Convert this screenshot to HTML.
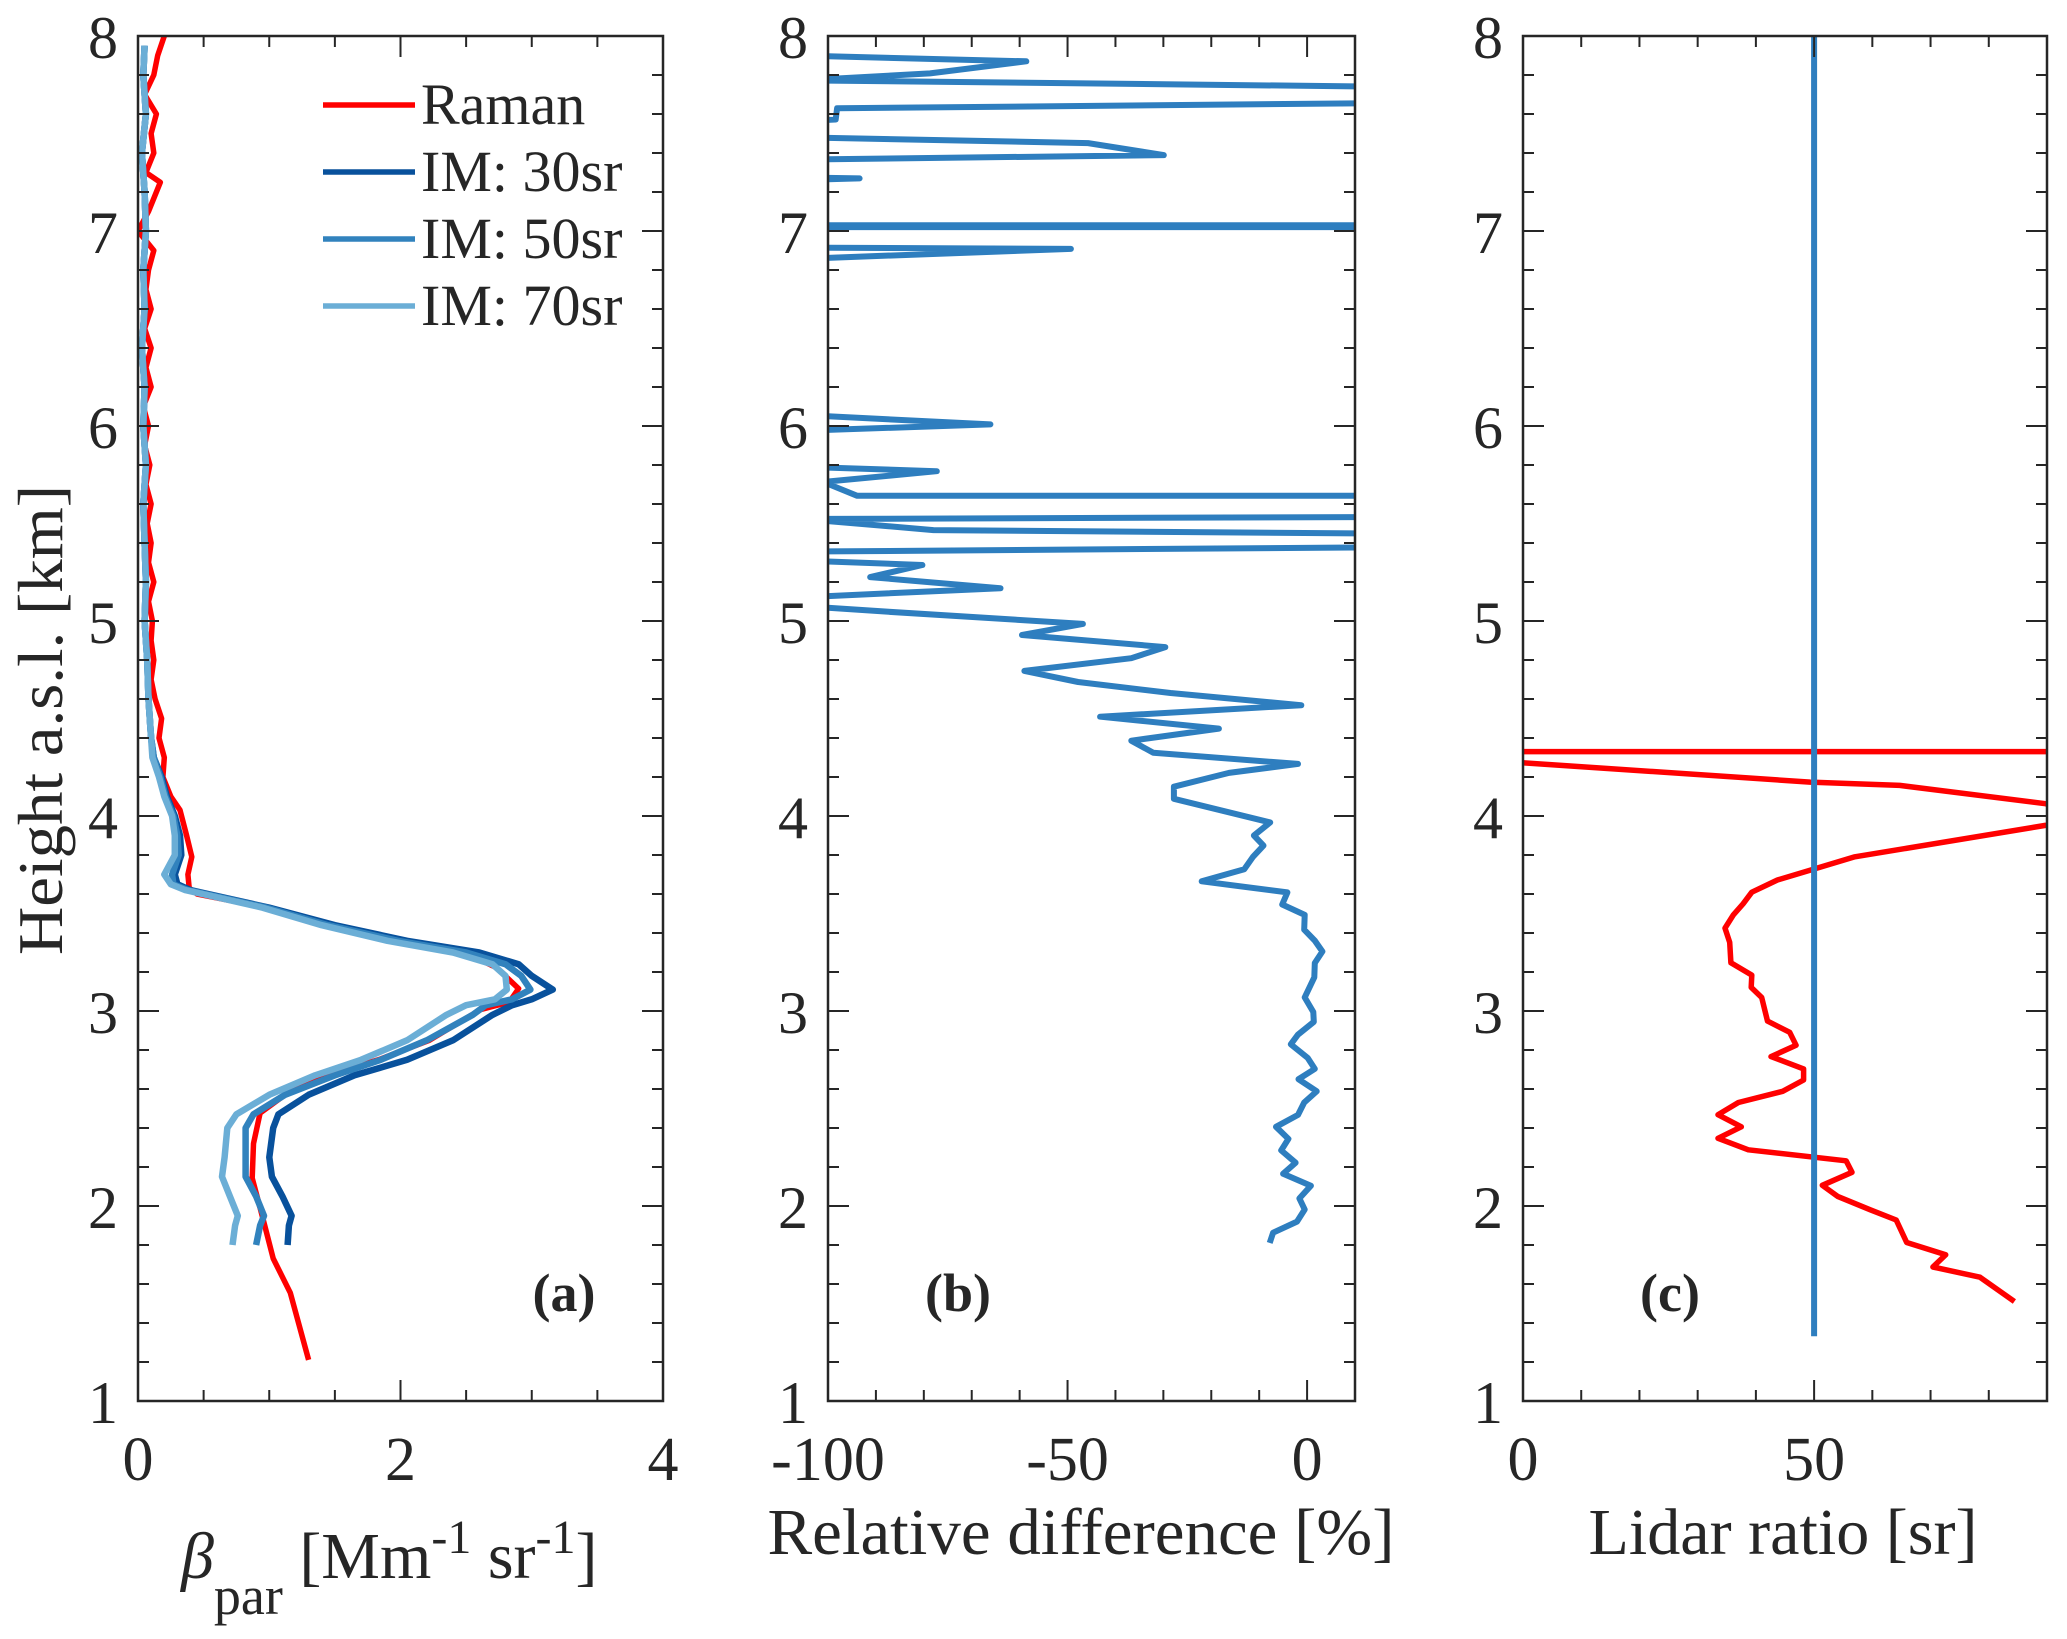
<!DOCTYPE html>
<html><head><meta charset="utf-8">
<style>
html,body{margin:0;padding:0;background:#fff;}
svg{display:block;font-family:"Liberation Serif","Times New Roman",serif;}
text{font-family:"Liberation Serif","Times New Roman",serif;fill:#262626;}
</style></head>
<body>
<svg id="fig" width="2067" height="1639" viewBox="0 0 2067 1639" xmlns="http://www.w3.org/2000/svg" font-family="Liberation Serif, Times New Roman, serif">
<defs>
<clipPath id="clipA"><rect x="138" y="36" width="525" height="1365"/></clipPath>
<clipPath id="clipB"><rect x="828" y="36" width="527" height="1365"/></clipPath>
<clipPath id="clipC"><rect x="1523" y="36" width="524" height="1365"/></clipPath>
</defs>
</svg>
<script>
// ---------- Panel (a) data: backscatter profiles ----------
const ramanH = [8.0,7.9,7.8,7.7,7.6,7.5,7.4,7.3,7.25,7.1,7.0,6.9,6.8,6.7,6.6,6.5,6.4,6.3,6.2,6.1,6.0,5.9,5.8,5.7,5.6,5.5,5.4,5.3,5.2,5.1,5.0,4.9,4.8,4.7,4.6,4.5,4.4,4.3,4.2,4.1,4.03,3.9,3.79,3.7,3.63,3.6,3.527,3.439,3.361,3.302,3.223,3.115,3.046,3.007,2.85,2.752,2.673,2.575,2.477,2.32,2.143,1.928,1.731,1.555,1.211];
const ramanV = [0.2,0.15,0.12,0.05,0.14,0.1,0.12,0.06,0.17,0.08,0.0,0.12,0.08,0.06,0.1,0.05,0.1,0.06,0.1,0.04,0.08,0.05,0.09,0.06,0.1,0.07,0.1,0.08,0.12,0.08,0.11,0.1,0.12,0.1,0.13,0.18,0.16,0.2,0.19,0.25,0.32,0.37,0.41,0.38,0.39,0.45,1.0,1.46,1.97,2.48,2.73,2.9,2.83,2.61,2.22,1.84,1.46,1.13,0.93,0.88,0.87,0.955,1.03,1.16,1.3];
const imH = [7.95,7.8,7.6,7.4,7.2,7.0,6.8,6.6,6.4,6.2,6.0,5.8,5.6,5.4,5.2,5.0,4.8,4.6,4.4,4.3,4.2,4.1,4.0,3.9,3.8,3.7,3.65,3.62,3.53,3.44,3.36,3.3,3.24,3.18,3.11,3.06,3.03,2.98,2.85,2.75,2.67,2.57,2.47,2.4,2.25,2.15,2.05,1.95,1.9,1.8];
const im30V = [0.05,0.04,0.06,0.03,0.05,0.06,0.04,0.05,0.03,0.05,0.04,0.06,0.04,0.05,0.06,0.05,0.07,0.08,0.1,0.12,0.18,0.22,0.28,0.32,0.33,0.28,0.3,0.4,1.0,1.5,2.05,2.6,2.9,3.0,3.16,3.0,2.85,2.7,2.4,2.05,1.65,1.3,1.07,1.03,1.0,1.02,1.1,1.17,1.15,1.14];
const im50V = [0.05,0.04,0.06,0.03,0.05,0.06,0.04,0.05,0.03,0.05,0.04,0.06,0.04,0.05,0.06,0.05,0.07,0.08,0.1,0.12,0.17,0.21,0.27,0.3,0.31,0.26,0.27,0.38,0.98,1.45,1.98,2.5,2.8,2.92,2.99,2.85,2.65,2.55,2.2,1.85,1.5,1.12,0.88,0.82,0.82,0.82,0.9,0.96,0.93,0.9];
const im70V = [0.05,0.04,0.06,0.03,0.05,0.06,0.04,0.05,0.03,0.05,0.04,0.06,0.04,0.05,0.06,0.05,0.07,0.08,0.1,0.11,0.16,0.2,0.26,0.28,0.28,0.2,0.25,0.36,0.95,1.4,1.9,2.4,2.7,2.8,2.81,2.72,2.5,2.35,2.05,1.7,1.35,1.0,0.75,0.68,0.66,0.64,0.7,0.76,0.74,0.72];

// ---------- Panel (b) data: relative difference ----------
const relH = [7.899,7.870,7.808,7.773,7.739,7.657,7.629,7.572,7.565,7.480,7.451,7.389,7.366,7.275,7.270,7.262,7.029,7.029,7.020,7.020,6.915,6.908,6.858,6.056,6.008,5.976,5.791,5.768,5.713,5.642,5.642,5.534,5.523,5.466,5.447,5.379,5.356,5.310,5.287,5.225,5.168,5.122,5.076,5.047,4.985,4.928,4.866,4.809,4.744,4.687,4.631,4.568,4.509,4.448,4.386,4.324,4.267,4.221,4.150,4.088,3.967,3.900,3.848,3.791,3.727,3.665,3.608,3.546,3.493,3.417,3.361,3.305,3.246,3.173,3.070,2.995,2.944,2.879,2.829,2.760,2.703,2.650,2.588,2.531,2.467,2.406,2.344,2.285,2.222,2.165,2.104,2.039,1.982,1.920,1.863,1.811];
const relV = [-105,-58.6,-78.7,-105,20,20,-98.1,-98.4,-105,-105,-45.7,-29.9,-105,-105,-93.4,-105,-105,20,20,-105,-105,-49.3,-105,-105,-66.1,-105,-105,-77.3,-101,-93.9,20,20,-105,-78.0,20,20,-105,-105,-80.3,-91.2,-64.0,-105,-105,-87.3,-46.8,-59.5,-29.6,-36.7,-59.0,-47.8,-28.5,-1.2,-43.2,-18.4,-36.7,-32.1,-1.9,-16.3,-27.8,-27.8,-7.7,-11.1,-9.1,-11.3,-13.1,-22.0,-4.1,-5.2,-0.5,-0.6,1.6,3.2,1.6,1.5,-0.5,1.3,1.4,-1.9,-3.4,0.1,1.6,-1.8,2.0,-0.6,-1.9,-6.5,-3.9,-5.4,-2.4,-5.0,0.8,-1.6,-0.5,-2.1,-7.1,-7.8];

// ---------- Panel (c) data: lidar ratio ----------
const lrH = [4.33,4.33,4.275,4.174,4.157,4.063,4.01,3.952,3.791,3.722,3.672,3.609,3.550,3.492,3.425,3.352,3.247,3.184,3.121,3.069,2.948,2.891,2.824,2.766,2.703,2.646,2.588,2.531,2.468,2.406,2.347,2.288,2.232,2.173,2.106,2.048,1.980,1.928,1.813,1.750,1.687,1.635,1.510];
const lrV = [150,-20,-1,49.3,64.7,89.7,110,89.7,57.0,49.3,43.7,39.3,37.8,36.1,34.7,35.5,35.7,39.3,39.2,41.0,42.0,45.8,46.9,42.6,48.2,48.2,44.6,37.0,33.5,37.5,33.5,38.7,55.5,56.5,51.4,54.1,59.7,64.1,65.9,72.6,70.4,78.5,84.4];
const imLrH = [8.0,1.332];
const imLrV = [50,50];

const yTicks = [1,2,3,4,5,6,7,8];

const svg = document.getElementById('fig');
const NS = 'http://www.w3.org/2000/svg';
const FONT = '"Liberation Serif","Times New Roman",serif';
const T = 36, B = 1401;
function yS(h){ return T + (8-h)*(B-T)/7; }

function mk(tag, attrs, parent){
  const e = document.createElementNS(NS, tag);
  for (const k in attrs) e.setAttribute(k, attrs[k]);
  if (tag === 'text') e.style.fontFamily = FONT;
  (parent||svg).appendChild(e);
  return e;
}

const panels = [
  {key:'a', x0:138, x1:663, vmin:0, vmax:4, major:[0,2,4], minorStep:0.5, clip:'clipA', lab:'(a)', labX:564},
  {key:'b', x0:828, x1:1355, vmin:-100, vmax:10, major:[-100,-50,0], minorStep:10, clip:'clipB', lab:'(b)', labX:958},
  {key:'c', x0:1523, x1:2047, vmin:0, vmax:90, major:[0,50], minorStep:10, clip:'clipC', lab:'(c)', labX:1670}
];
panels.forEach(p=>{ p.xS = v => p.x0 + (v-p.vmin)*(p.x1-p.x0)/(p.vmax-p.vmin); });

function drawLine(p, H, V, color, w, name){
  let d = '';
  for (let i=0;i<H.length;i++) d += (i?'L':'M') + p.xS(V[i]).toFixed(1) + ' ' + yS(H[i]).toFixed(1);
  const el = mk('path', {d:d, fill:'none', stroke:color, 'stroke-width':w, 'stroke-linejoin':'round', 'clip-path':'url(#'+p.clip+')'});
  
  
}

drawLine(panels[0], ramanH, ramanV, '#ff0000', 5.5, 'raman-line');
drawLine(panels[0], imH, im30V, '#08519c', 6.5, 'im-30sr-line');
drawLine(panels[0], imH, im50V, '#3182bd', 6.5, 'im-50sr-line');
drawLine(panels[0], imH, im70V, '#6baed6', 6.5, 'im-70sr-line');
drawLine(panels[1], relH, relV, '#2e7ebf', 6, 'relative-difference-line');
drawLine(panels[2], lrH, lrV, '#ff0000', 5.5, 'raman-lidar-ratio-line');
drawLine(panels[2], imLrH, imLrV, '#2e7ebf', 6, 'assumed-lidar-ratio-line');

panels.forEach(p=>{
  const g = mk('g', {});
  
  
  mk('rect', {x:p.x0, y:T, width:p.x1-p.x0, height:B-T, fill:'none', stroke:'#262626', 'stroke-width':2.5}, g);
  for (let v=p.vmin; v<=p.vmax+1e-9; v+=p.minorStep){
    const vv = Math.round(v*1000)/1000;
    const isMaj = p.major.some(m=>Math.abs(m-vv)<1e-6);
    const L = isMaj?21:11, x = p.xS(vv);
    mk('line', {x1:x, x2:x, y1:B, y2:B-L, stroke:'#262626', 'stroke-width':2}, g);
    mk('line', {x1:x, x2:x, y1:T, y2:T+L, stroke:'#262626', 'stroke-width':2}, g);
  }
  p.major.forEach(m=>{
    const t = mk('text', {x:p.xS(m), y:1480, 'font-size':62, 'text-anchor':'middle'}, g);
    t.textContent = String(m);
    
    
  });
  for (let h=1; h<=8.0001; h+=0.2){
    const hh = Math.round(h*10)/10;
    const isMaj = Math.abs(hh-Math.round(hh))<1e-6;
    const L = isMaj?21:11, y = yS(hh);
    mk('line', {x1:p.x0, x2:p.x0+L, y1:y, y2:y, stroke:'#262626', 'stroke-width':2}, g);
    mk('line', {x1:p.x1, x2:p.x1-L, y1:y, y2:y, stroke:'#262626', 'stroke-width':2}, g);
  }
  yTicks.forEach(h=>{
    const t = mk('text', {x:p.x0-20, y:yS(h)+22, 'font-size':60, 'text-anchor':'end'}, g);
    t.textContent = String(h);
    
    
  });
  const pl = mk('text', {x:p.labX, y:1311, 'font-size':54, 'font-weight':'bold', 'text-anchor':'middle', fill:'#000'}, g);
  pl.textContent = p.lab;
  
  
});

svg.insertAdjacentHTML('beforeend', `
<g font-family="Liberation Serif, serif">
  <g><line x1="323" x2="415" y1="105" y2="105" stroke="#ff0000" stroke-width="5.5"/><text x="421" y="124" font-size="58" style="font-family:'Liberation Serif',serif">Raman</text></g>
  <g><line x1="323" x2="415" y1="172" y2="172" stroke="#08519c" stroke-width="5.5"/><text x="421" y="191" font-size="58" style="font-family:'Liberation Serif',serif">IM: 30sr</text></g>
  <g><line x1="323" x2="415" y1="239" y2="239" stroke="#3182bd" stroke-width="5.5"/><text x="421" y="258" font-size="58" style="font-family:'Liberation Serif',serif">IM: 50sr</text></g>
  <g><line x1="323" x2="415" y1="306" y2="306" stroke="#6baed6" stroke-width="5.5"/><text x="421" y="325" font-size="58" style="font-family:'Liberation Serif',serif">IM: 70sr</text></g>
</g>
<text style="font-family:'Liberation Serif',serif" transform="translate(62,720) rotate(-90)" text-anchor="middle" font-size="64" textLength="470" lengthAdjust="spacingAndGlyphs">Height a.s.l. [km]</text>
<text style="font-family:'Liberation Serif',serif" x="181" y="1578" font-size="66"><tspan font-style="italic">β</tspan><tspan dy="36" font-size="54">par</tspan><tspan dy="-36"> [Mm</tspan><tspan dy="-25" font-size="48">-1</tspan><tspan dy="25"> sr</tspan><tspan dy="-25" font-size="48">-1</tspan><tspan dy="25">]</tspan></text>
<text style="font-family:'Liberation Serif',serif" x="1081" y="1554" font-size="66" text-anchor="middle" textLength="627" lengthAdjust="spacingAndGlyphs">Relative difference [%]</text>
<text style="font-family:'Liberation Serif',serif" x="1783" y="1554" font-size="66" text-anchor="middle" textLength="389" lengthAdjust="spacingAndGlyphs">Lidar ratio [sr]</text>
`);
</script>
</body></html>
